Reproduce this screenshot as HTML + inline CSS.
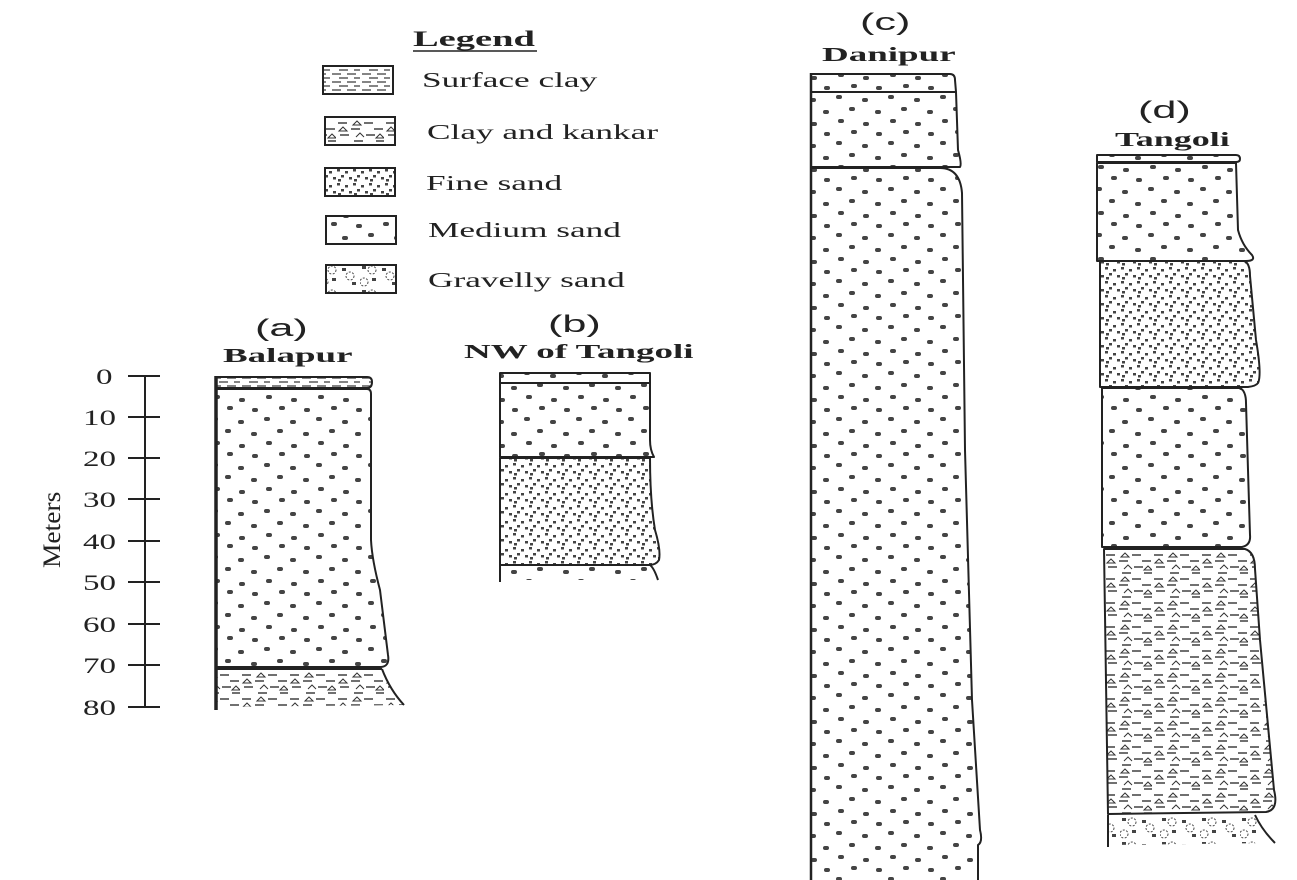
<!DOCTYPE html>
<html><head><meta charset="utf-8"><style>
html,body{margin:0;padding:0;background:#fff;}
svg{display:block}
</style></head><body>
<svg width="1297" height="880" viewBox="0 0 1297 880" xmlns="http://www.w3.org/2000/svg" font-family="Liberation Serif, serif" fill="#222">
<defs>
<pattern id="med" width="52" height="46" patternUnits="userSpaceOnUse">
<g fill="#444">
<rect x="4" y="3" width="6" height="4" rx="2"/><rect x="30" y="6" width="6" height="4" rx="2"/>
<rect x="17" y="15" width="6" height="4" rx="2"/><rect x="43" y="18" width="6" height="4" rx="2"/>
<rect x="6" y="27" width="6" height="4" rx="2"/><rect x="31" y="30" width="6" height="4" rx="2"/>
<rect x="19" y="38" width="6" height="4" rx="2"/><rect x="44" y="40" width="6" height="4" rx="2"/>
</g></pattern>
<pattern id="fine" width="16" height="14" patternUnits="userSpaceOnUse">
<g fill="#444">
<rect x="1" y="1" width="3" height="2.5"/><rect x="9" y="3" width="3" height="2.5"/>
<rect x="5" y="7" width="3" height="2.5"/><rect x="13" y="9" width="3" height="2.5"/>
<rect x="2" y="11" width="3" height="2.5"/>
</g></pattern>
<pattern id="clay" width="30" height="8" patternUnits="userSpaceOnUse">
<g stroke="#333" stroke-width="1.2">
<line x1="2" y1="2" x2="11" y2="2"/><line x1="17" y1="2" x2="26" y2="2"/>
<line x1="9" y1="6" x2="18" y2="6"/><line x1="24" y1="6" x2="30" y2="6"/>
</g></pattern>
<pattern id="kank" width="48" height="24" patternUnits="userSpaceOnUse">
<g stroke="#333" stroke-width="1.4" fill="none">
<line x1="2" y1="3" x2="11" y2="3"/><line x1="28" y1="3" x2="37" y2="3"/>
<line x1="15" y1="9" x2="24" y2="9"/><line x1="38" y1="9" x2="47" y2="9"/>
<line x1="4" y1="15" x2="13" y2="15"/><line x1="30" y1="15" x2="39" y2="15"/>
<line x1="18" y1="21" x2="27" y2="21"/><line x1="40" y1="21" x2="48" y2="21"/>
<path d="M17 5 l4 -4 l4 4 z" stroke-width="1"/><path d="M3 11 l4 -4 l4 4 z" stroke-width="1"/>
<path d="M40 18 l4 -4 l4 4 z" stroke-width="1"/><path d="M20 17 l4 -4 l4 4" stroke-width="1"/>
</g></pattern>
<pattern id="grav" width="40" height="24" patternUnits="userSpaceOnUse">
<g fill="#444"><rect x="2" y="2" width="4" height="3"/><rect x="22" y="4" width="4" height="3"/><rect x="12" y="14" width="4" height="3"/><rect x="32" y="18" width="4" height="3"/></g>
<g fill="none" stroke="#444" stroke-width="1" stroke-dasharray="2 1.5"><circle cx="12" cy="6" r="4"/><circle cx="30" cy="12" r="4"/><circle cx="4" cy="18" r="4"/></g>
</pattern>
</defs>

<!-- Legend -->
<text transform="translate(413,46) scale(1.75,1)" font-size="22" font-weight="bold">Legend</text>
<line x1="413" y1="51" x2="537" y2="51" stroke="#222" stroke-width="1.5"/>
<g stroke="#222" stroke-width="2">
<rect x="323" y="66" width="70" height="28" fill="url(#clay)"/>
<rect x="325" y="117" width="70" height="28" fill="url(#kank)"/>
<rect x="325" y="168" width="70" height="28" fill="url(#fine)"/>
<rect x="326" y="216" width="70" height="28" fill="url(#med)"/>
<rect x="326" y="265" width="70" height="28" fill="url(#grav)"/>
</g>
<g font-size="21">
<text transform="translate(422,87) scale(1.68,1)">Surface clay</text>
<text transform="translate(427,139) scale(1.68,1)">Clay and kankar</text>
<text transform="translate(426,190) scale(1.68,1)">Fine sand</text>
<text transform="translate(428,237) scale(1.68,1)">Medium sand</text>
<text transform="translate(428,287) scale(1.68,1)">Gravelly sand</text>
</g>

<!-- Labels -->
<g font-size="24" font-family="Liberation Sans, sans-serif" font-weight="normal">
<text font-family="Liberation Sans, sans-serif" transform="translate(255,336) scale(1.8,1)">(a)</text>
<text font-family="Liberation Sans, sans-serif" transform="translate(548,332) scale(1.8,1)">(b)</text>
<text font-family="Liberation Sans, sans-serif" transform="translate(860,30) scale(1.8,1)">(c)</text>
<text font-family="Liberation Sans, sans-serif" transform="translate(1138,118) scale(1.8,1)">(d)</text>
</g>
<g font-size="20" font-weight="bold">
<text transform="translate(223,362) scale(1.85,1)">Balapur</text>
<text transform="translate(464,358) scale(1.85,1)">NW of Tangoli</text>
<text transform="translate(822,61) scale(1.85,1)">Danipur</text>
<text transform="translate(1115,146) scale(1.8,1)">Tangoli</text>
</g>

<!-- Axis -->
<line x1="145" y1="376" x2="145" y2="707" stroke="#222" stroke-width="2"/>
<g stroke="#222" stroke-width="2">
<line x1="128" y1="376" x2="160" y2="376"/><line x1="128" y1="417" x2="160" y2="417"/>
<line x1="128" y1="458" x2="160" y2="458"/><line x1="128" y1="499" x2="160" y2="499"/>
<line x1="128" y1="541" x2="160" y2="541"/><line x1="128" y1="582" x2="160" y2="582"/>
<line x1="128" y1="624" x2="160" y2="624"/><line x1="128" y1="665" x2="160" y2="665"/>
<line x1="128" y1="707" x2="160" y2="707"/>
</g>
<g font-size="22">
<text transform="translate(96,384) scale(1.5,1)">0</text>
<text transform="translate(83,425) scale(1.5,1)">10</text>
<text transform="translate(83,466) scale(1.5,1)">20</text>
<text transform="translate(83,507) scale(1.5,1)">30</text>
<text transform="translate(83,549) scale(1.5,1)">40</text>
<text transform="translate(83,590) scale(1.5,1)">50</text>
<text transform="translate(83,632) scale(1.5,1)">60</text>
<text transform="translate(83,673) scale(1.5,1)">70</text>
<text transform="translate(83,715) scale(1.5,1)">80</text>
</g>
<text transform="translate(60,568) rotate(-90) scale(1.25,1.15)" font-size="22">Meters</text>

<g stroke="#222" stroke-width="2" stroke-linejoin="round">
<!-- (a) -->
<path d="M216 377 H367 q5 0 5 5 q0 6 -5 6 H216 Z" fill="url(#clay)"/>
<path d="M216 389 H367 q4 0 4 5 L371 540 Q372 560 380 590 L388 655 q2 12 -8 12 H216 Z" fill="url(#med)"/>
<path d="M216 669 H382 Q390 690 404 705 L216 707 Z" fill="url(#kank)" stroke="none"/>
<path d="M216 669 H382 M382 669 Q390 690 404 705" fill="none"/>
<line x1="216" y1="376" x2="216" y2="710" stroke-width="3.5"/>
<!-- (b) -->
<path d="M500 373 H650 V383 H500 Z" fill="url(#med)"/>
<path d="M500 383 H650 V440 q0 10 4 17 H500 Z" fill="url(#med)"/>
<path d="M500 458 H650 Q650 500 655 530 q6 20 4 30 q-3 5 -10 5 H500 Z" fill="url(#fine)"/>
<path d="M500 565 H650 Q654 568 658 580 L500 580 Z" fill="url(#med)" stroke="none"/>
<path d="M500 565 H650 Q654 568 658 580 M500 565 V582" fill="none"/>
<!-- (c) -->
<path d="M811 74 H950 q5 0 5 6 L956 92 H811 Z" fill="url(#med)"/>
<path d="M811 92 H956 L958 150 q4 14 2 17 H811 Z" fill="url(#med)"/>
<path d="M811 168 H940 q20 0 22 25 L965 450 L972 700 L980 830 q3 12 -2 15 L978 880 H811 Z" fill="url(#med)" stroke="none"/>
<path d="M811 168 H940 q20 0 22 25 L965 450 L972 700 L980 830 q3 12 -2 15 L978 880" fill="none"/>
<line x1="811" y1="73" x2="811" y2="880" stroke-width="2.5"/>
<!-- (d) -->
<path d="M1097 155 H1236 q4 0 4 4 q0 3 -4 3 H1097 Z" fill="url(#med)"/>
<path d="M1097 163 H1236 L1238 230 Q1242 245 1252 255 q4 6 -6 6 H1097 Z" fill="url(#med)"/>
<path d="M1100 261 H1244 q6 2 6 15 L1256 340 Q1262 375 1258 383 q-2 3 -10 4 H1100 Z" fill="url(#fine)"/>
<path d="M1102 388 H1240 q6 3 6 15 L1248 470 L1250 535 q1 10 -8 12 H1102 Z" fill="url(#med)"/>
<path d="M1104 549 H1245 q10 3 10 20 L1260 640 L1274 790 q5 20 -8 22 L1108 814 Z" fill="url(#kank)"/>
<path d="M1108 815 H1255 Q1262 830 1275 843 L1108 845 Z" fill="url(#grav)" stroke="none"/>
<path d="M1108 815 V847 M1255 815 Q1262 830 1275 843" fill="none"/>
</g>
</svg>
</body></html>
